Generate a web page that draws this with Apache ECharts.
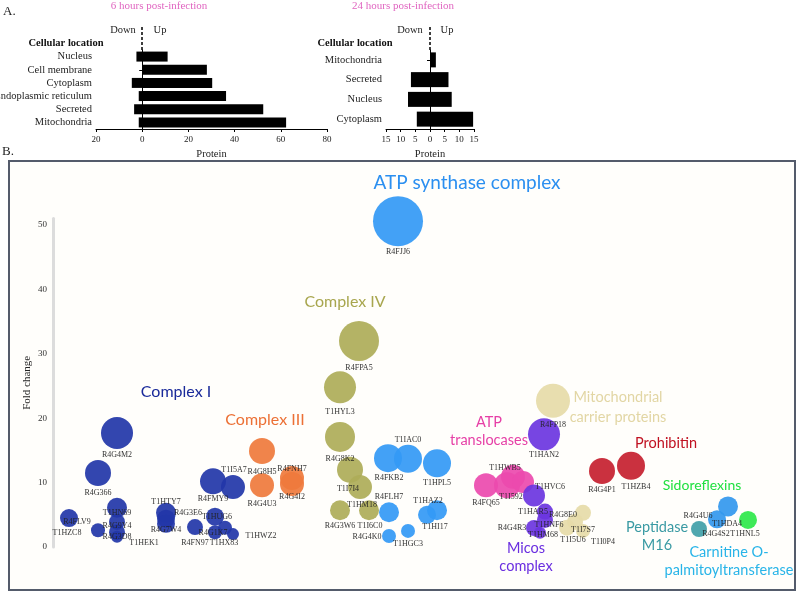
<!DOCTYPE html>
<html><head><meta charset="utf-8">
<script src="https://cdn.jsdelivr.net/npm/echarts@6/dist/echarts.min.js"></script>
<style>html,body{margin:0;padding:0;background:#fff}#c{width:797px;height:593px}</style>
</head><body><div id="c"></div>
<script>
// ---------- Panel A data ----------
const cats6h = ['Nucleus', 'Cell membrane', 'Cytoplasm', 'Endoplasmic reticulum', 'Secreted', 'Mitochondria'];
const down6h = [-2.5, 0, -4.5, -1.5, -3.5, -1.5];
const up6h = [11, 28, 30.3, 36.3, 52.4, 62.3];
const cats24h = ['Mitochondria', 'Secreted', 'Nucleus', 'Cytoplasm'];
const down24h = [0, -6.5, -7.5, -4.5];
const up24h = [2, 6.3, 7.4, 14.7];

// ---------- Panel B data ----------
const groupNames = ['Complex I', 'Complex III', 'Complex IV', 'ATP synthase complex', 'ATP translocases',
  'Mitochondrial carrier proteins', 'Micos complex', 'Prohibitin', 'Peptidase M16',
  'Carnitine O-palmitoyltransferase', 'Sidoreflexins'];
const proteinNames = [
  'R4FLV9','T1HZC8','R4G366','R4G4M2','T1HN69','R4G9Y4','R4G3D8','T1HEK1','T1HTY7','R4G3E6','R4G7W4','R4FN97','R4FMY9','T1I5A7','T1HUG6','R4G1K7','T1HX83','T1HWZ2',
  'R4G8H5','R4G4U3','R4FNH7','R4G4I2',
  'R4FPA5','T1HYL3','R4G8K2','T1I7I4','T1HM18','R4G3W6','T1I6C0',
  'R4FJJ6','R4FKB2','T1IAC0','T1HPL5','R4FLH7','R4G4K0','T1HGC3','T1HAZ2','T1HI17',
  'R4FQ65','T1HWB5','T1I592','',
  'R4FP18','R4G8E0','T1I7S7','T1I5U6','T1I0P4',
  'T1HAN2','T1HVC6','T1HAR5','T1HNF6','R4G4R3','T1HM68',
  'R4G4P1','T1HZB4',
  'R4G4S2',
  'R4G4U6','T1HDA4',
  'T1HNL5'];
const proteinGroup = [
  0,0,0,0,0,0,0,0,0,0,0,0,0,0,0,0,0,0,
  1,1,1,1,
  2,2,2,2,2,2,2,
  3,3,3,3,3,3,3,3,3,
  4,4,4,4,
  5,5,5,5,5,
  6,6,6,6,6,6,
  7,7,
  8,
  9,9,
  10];
// horizontal placement in the layout (no scale shown)
const layoutPos = [
  69,98,98,117,117,117,117,117,166,166,166,195,213,233,215,215,225,233,
  262,262,292,292,
  359,340,340,350,360,340,369,
  398,388,408,437,389,389,408,437,427,
  486,513,507,523,
  553,583,575,567,583,
  544,534,545,545,534,540,
  602,631,
  699,
  717,728,
  748];
const foldChange = [
  4.5,2.6,11.5,17.7,6.1,3.9,2.3,1.6,5.3,4.4,3.6,3.1,10.2,9.3,4.7,2.3,3.0,2.0,
  14.9,9.6,10.7,9.8,
  32.0,24.8,17.1,12.0,9.3,5.7,5.7,
  50.6,13.8,13.7,13.0,5.4,1.7,2.5,5.7,5.0,
  9.6,10.9,9.6,10.1,
  22.7,5.3,3.9,3.0,2.5,
  17.5,8.0,5.5,4.2,2.95,2.2,
  11.8,12.6,
  2.8,
  4.3,6.3,
  4.2];
const abundance = [
  9,7,13,16,10,8,8,6,10,9,9,8,13,12,9,7,7,6,
  13,12,12,12,
  20,16,15,13,12,10,10,
  25,14,14,14,10,7,7,10,9,
  12,12,13,11,
  17,8,8,8,7,
  16,11,8,8,8,6,
  13,14,
  8,
  9,10,
  9];

// ---------- styles / layout ----------
const labelOffsets = [
  [8,4],[-31,3],[0,20],[0,22],[0,5],[0,4],[0,5],[27,6],[0,-11],[22,-6],[0,6],[0,16],[0,18],[1,-17],[2,0],[-2,1],[-1,15],[28,2],
  [0,21],[0,19],[0,-9],[0,13],
  [0,27],[0,25],[0,22],[-2,19],[2,18],[0,16],[1,16],
  [0,31],[1,20],[0,-19],[0,20],[0,-15],[-22,1],[0,13],[-9,-9],[8,12],
  [0,18],[-8,-9],[4,12],[0,0],
  [0,24],[-20,2],[8,8],[6,12],[20,11],
  [0,21],[16,-9],[-12,0],[4,5],[-22,0],[3,2],
  [0,19],[5,21],
  [17,5],
  [-19,-3],[-1,17],
  [-3,14]];
const bubbleColors = ['#2236a8','#ef7a3c','#aead58','#3399f5','#ec4aae','#e6dba8','#6b35df','#c5202f','#40a0a8','#3398ee','#2ee84a'];
const groupLabelColors = ['#1a2a9a','#ec7035','#a8a64e','#2b8ff0','#e63fa6','#e2d6a4','#6a2ee0','#c01020','#3a9aa3','#28b4e8','#20e040'];
// [lines, centre x, first line y, font size, line step]
const groupLabelLines = [
  [['Complex I'], 176, 392, 16, 0],
  [['Complex III'], 265, 420, 16, 0],
  [['Complex IV'], 345, 302, 16, 0],
  [['ATP synthase complex'], 467, 183, 19, 0],
  [['ATP', 'translocases'], 489, 422, 14.5, 18],
  [['Mitochondrial', 'carrier proteins'], 618, 397, 14.5, 20],
  [['Micos', 'complex'], 526, 548, 14.5, 18],
  [['Prohibitin'], 666, 443, 14.5, 0],
  [['Peptidase', 'M16'], 657, 527, 14.5, 18],
  [['Carnitine O-', 'palmitoyltransferase'], 729, 552, 14.5, 18],
  [['Sidoreflexins'], 702, 485, 14, 0]];

const SERIF = '"Liberation Serif", "DejaVu Serif", serif';
const SANS = 'Lato, "Noto Sans", sans-serif';

const chart = echarts.init(document.getElementById('c'), null, {renderer: 'canvas'});

function catAxis(cats, gi) {
  return {
    type: 'category', gridIndex: gi, data: cats, inverse: true,
    axisLine: {lineStyle: {color: '#000', width: 1}},
    axisTick: {show: true, length: 3, alignWithLabel: true, interval: 0, lineStyle: {color: '#000'}},
    axisLabel: {fontFamily: SERIF, fontSize: 10.5, color: '#222', margin: 4, interval: 0}
  };
}
function valAxis(gi, mn, mx, iv) {
  return {
    type: 'value', gridIndex: gi, min: mn, max: mx, interval: iv,
    name: 'Protein', nameLocation: 'middle', nameGap: 20, nameMoveOverlap: false,
    nameTextStyle: {fontFamily: SERIF, fontSize: 10.5, color: '#222'},
    axisLine: {show: true, lineStyle: {color: '#000', width: 1}},
    axisTick: {show: true, length: 3, lineStyle: {color: '#000'}},
    splitLine: {show: false},
    axisLabel: {fontFamily: SERIF, fontSize: 9, color: '#222', margin: 6,
      formatter: v => String(Math.abs(v))}
  };
}

const bubbleSeries = groupNames.map((g, gi) => {
  const data = [];
  proteinNames.forEach((n, i) => {
    if (proteinGroup[i] !== gi) return;
    data.push({
      name: n,
      value: [layoutPos[i], foldChange[i], abundance[i]],
      label: {offset: labelOffsets[i]}
    });
  });
  return {
    type: 'scatter', name: g, xAxisIndex: 2, yAxisIndex: 2, clip: false,
    symbolSize: v => v[2] * 2,
    itemStyle: {color: bubbleColors[gi], opacity: 0.92},
    label: {show: true, position: 'inside', formatter: '{b}', fontFamily: SERIF, fontSize: 8,
      color: '#222'},
    emphasis: {disabled: true},
    data
  };
});

function txt(text, x, y, font, fill, align) {
  return {type: 'text', z: 50, style: {text, x, y, font, fill, align: align || 'center', textAlign: align || 'center',
    verticalAlign: 'middle', textVerticalAlign: 'middle'}};
}

const graphics = [
  {type: 'rect', z: -10, shape: {x: 9, y: 161, width: 786, height: 429},
    style: {fill: '#fffefb', stroke: '#545b6b', lineWidth: 2}},
  txt('A.', 3, 12, '13px ' + SERIF, '#222', 'left'),
  txt('B.', 2, 152, '13px ' + SERIF, '#222', 'left'),
  txt('6 hours post-infection', 159, 6, '11px ' + SERIF, '#e065c0'),
  txt('24 hours post-infection', 403, 6, '11px ' + SERIF, '#e065c0'),
  txt('Cellular location', 66, 43, 'bold 10.5px ' + SERIF, '#111'),
  txt('Cellular location', 355, 43, 'bold 10.5px ' + SERIF, '#111'),
  txt('Down', 123, 30, '10.5px ' + SERIF, '#222'),
  txt('Up', 160, 30, '10.5px ' + SERIF, '#222'),
  txt('Down', 410, 30, '10.5px ' + SERIF, '#222'),
  txt('Up', 447, 30, '10.5px ' + SERIF, '#222'),
  {type: 'line', shape: {x1: 142, y1: 27, x2: 142, y2: 52}, style: {stroke: '#000', lineWidth: 1.5, lineDash: [3, 2]}},
  {type: 'line', shape: {x1: 430, y1: 27, x2: 430, y2: 52}, style: {stroke: '#000', lineWidth: 1.5, lineDash: [3, 2]}}
];
groupLabelLines.forEach((gl, gi) => {
  gl[0].forEach((t, li) => {
    graphics.push(txt(t, gl[1], gl[2] + li * gl[4], gl[3] + 'px ' + SANS, groupLabelColors[gi]));
  });
});

chart.setOption({
  animation: false,
  backgroundColor: '#ffffff',
  grid: [
    {left: 96, right: 470, top: 50, bottom: 464, outerBoundsMode: 'none', containLabel: false},
    {left: 386, right: 323, top: 50, bottom: 464, outerBoundsMode: 'none', containLabel: false},
    {left: 53, right: 2, top: 218.6, bottom: 46, outerBoundsMode: 'none', containLabel: false}
  ],
  xAxis: [
    valAxis(0, -20, 80, 20),
    valAxis(1, -15, 15, 5),
    {type: 'value', gridIndex: 2, min: 53, max: 795, show: false}
  ],
  yAxis: [
    catAxis(cats6h, 0),
    catAxis(cats24h, 1),
    {type: 'value', gridIndex: 2, min: 0, max: 51, interval: 10,
      name: 'Fold change', nameLocation: 'middle', nameGap: 20, nameMoveOverlap: false,
      nameTextStyle: {fontFamily: SERIF, fontSize: 11, color: '#222'},
      axisLine: {show: true, lineStyle: {color: '#dcdcdc', width: 3}},
      axisTick: {show: false}, splitLine: {show: false},
      axisLabel: {fontFamily: SERIF, fontSize: 9, color: '#333', margin: 6}}
  ],
  graphic: graphics,
  series: [
    {type: 'bar', xAxisIndex: 0, yAxisIndex: 0, stack: 'a', data: down6h, barWidth: 10, itemStyle: {color: '#000'}},
    {type: 'bar', xAxisIndex: 0, yAxisIndex: 0, stack: 'a', data: up6h, barWidth: 10, itemStyle: {color: '#000'}},
    {type: 'bar', xAxisIndex: 1, yAxisIndex: 1, stack: 'b', data: down24h, barWidth: 15, itemStyle: {color: '#000'}},
    {type: 'bar', xAxisIndex: 1, yAxisIndex: 1, stack: 'b', data: up24h, barWidth: 15, itemStyle: {color: '#000'}}
  ].concat(bubbleSeries)
});
</script></body></html>
